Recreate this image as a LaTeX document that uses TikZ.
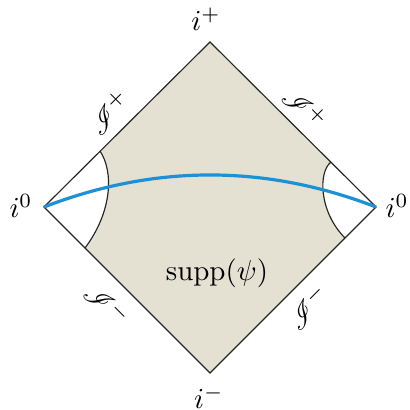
\documentclass[tikz,border=0pt]{standalone}
\usepackage{mathrsfs}
\definecolor{beige}{RGB}{228,225,211}
\definecolor{lineblue}{RGB}{30,145,212}
\begin{document}
\begin{tikzpicture}[x=0.345pt,y=-0.345pt,
  edge/.style={draw=black!85,line width=0.4pt},
  lbl/.style={inner sep=0pt,font=\normalsize}]
\useasboundingbox (0,0) rectangle (409,410);
\coordinate (T) at (210,42);
\coordinate (B) at (210,373);
\coordinate (L) at (44,207);
\coordinate (R) at (376,207);
\coordinate (LU) at (100,151);
\coordinate (LD) at (85,248);
\coordinate (RU) at (331,162);
\coordinate (RD) at (345,238);
% filled support
\fill[beige] (LU) -- (T) -- (RU) .. controls (318,172) and (319,212) .. (RD)
  -- (B) -- (LD) .. controls (112,212) and (114,172) .. (LU) -- cycle;
% diamond
\draw[edge] (L) -- (T) -- (R) -- (B) -- cycle;
% boundary curves
\draw[edge] (LU) .. controls (114,172) and (112,212) .. (LD);
\draw[edge] (RU) .. controls (318,172) and (319,212) .. (RD);
% Cauchy surface
\draw[lineblue,line width=1.1pt] (L) .. controls (154.7,164.3) and (265.3,164.3) .. (R);
% labels
\node[lbl] (ip) at (206,19) {$i^+$};
\node[lbl] (im) at (209,397) {$i^-$};
\node[lbl] (i0l) at (21,206) {$i^0$};
\node[lbl] (i0r) at (397,206) {$i^0$};
\node[lbl,rotate=45] (sul) at (109,112) {$\mathscr{I}^+$};
\node[lbl,rotate=-45] (sur) at (305,108) {$\mathscr{I}^+$};
\node[lbl,rotate=-45] (sdl) at (107,305) {$\mathscr{I}^-$};
\node[lbl,rotate=45] (sdr) at (308,307) {$\mathscr{I}^-$};
\node[lbl] (supp) at (217,273) {$\mathrm{supp}(\psi)$};
\end{tikzpicture}
\end{document}
